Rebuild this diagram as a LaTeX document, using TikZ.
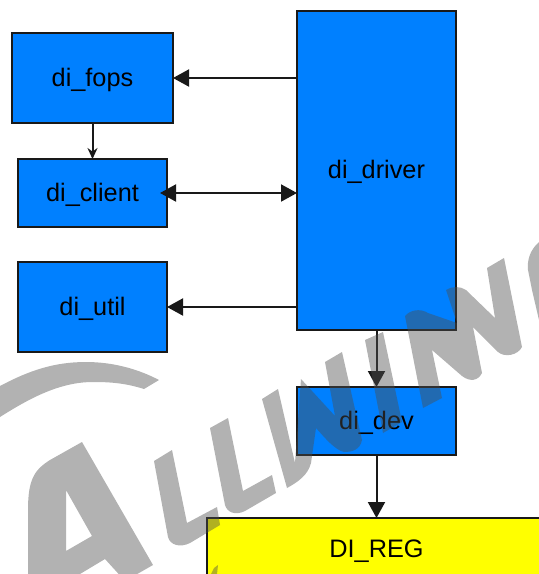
\documentclass[tikz,border=0pt]{standalone}
\usepackage{fontspec}
\setmainfont{Liberation Sans}
\usetikzlibrary{positioning}
\usetikzlibrary{arrows.meta}
\definecolor{diblue}{HTML}{0080FF}
\definecolor{diyellow}{HTML}{FFFF00}
\definecolor{markgray}{HTML}{4E4E4E}
\tikzset{
    block/.style={draw=black!90, line width=1.5pt, fill=diblue, inner sep=0pt, outer sep=0pt,
        text height=16pt, text depth=0pt, font=\fontsize{25.3}{28}\selectfont},
    link/.style={line width=2pt, black!90, xshift=-0.5pt},
    mark letter/.style={fill=markgray, fill opacity=0.435, draw=none}
}
\begin{document}
\begin{tikzpicture}[x=1pt, y=-1pt, >={Triangle[length=16pt, width=17pt]}, node distance=115pt]
    \useasboundingbox (0,0) rectangle (539,574);
    \node[block, minimum width=161pt, minimum height=90pt] (fops) at (92.5,78) {di\_fops};
    \node[block, minimum width=149pt, minimum height=68pt, below of=fops] (client) {di\_client};
    \node[block, minimum width=149pt, minimum height=90pt, below of=client, yshift=1pt] (util) {di\_util};
    \node[block, minimum width=159pt, minimum height=319pt] (driver) at (376.5,170.5) {di\_driver};
    \node[block, minimum width=159pt, minimum height=68pt, below of=driver, yshift=-135.5pt] (dev) {di\_dev};
    \node[block, fill=diyellow, minimum width=339pt, minimum height=62pt, below of=dev, yshift=-13pt] (reg) {DI\_REG};
    \draw[link, ->] (driver.west |- fops.east) -- (fops.east);
    \draw[link, -{Stealth[length=11pt, width=10pt]}] (fops.south -| client.north) -- (client.north);
    \draw[link, <->, shorten <=-7pt] (client.east) -- (driver.west |- client.east);
    \draw[link, ->] (driver.west |- util.east) -- (util.east);
    \draw[link, ->] (driver.south) -- (dev.north);
    \draw[link, ->] (dev.south) -- (reg.north);
    \path[mark letter] (0,386) .. controls (30,370) and (55,362) .. (86,362) .. controls (115,362) and (140,370) .. (159,380)
        -- (144,389) .. controls (125,383) and (110,382) .. (93,382) .. controls (60,382) and (30,398) .. (0,417) -- cycle;
    \path[mark letter, even odd rule] (82,442) -- (153,565) -- (125,581) -- (105,559) -- (75,577) -- (28,577) -- (28,510)
        .. controls (28,480) and (34,470) .. (50,460) -- cycle
        (66,490) -- (92,536) -- (66,551) -- cycle;
    \path[mark letter] (154,461) -- (172,450) -- (187,523) -- (217,507) -- (220,525) -- (190,543)
        .. controls (180,548) and (170,545) .. (168,537) -- cycle;
    \path[mark letter] (210,428) -- (228,418) -- (243,491) -- (272,475) -- (276,493) -- (245,511)
        .. controls (235,516) and (227,512) .. (225,505) -- cycle;
    \path[mark letter] (262,399) -- (278,389) -- (295,463) -- (301,379) -- (335,416) -- (325,362) -- (342,352) -- (362,440)
        .. controls (360,450) and (352,452) .. (344,452) .. controls (335,450) and (325,438) .. (316,428)
        -- (311,463) .. controls (308,475) and (298,482) .. (287,488) -- cycle;
    \path[mark letter] (365,340) -- (383,332) -- (402,422) -- (383,433) -- cycle;
    \path[mark letter] (405,316) .. controls (410,310) and (420,308) .. (428,313) -- (457,323) -- (446,290)
        .. controls (452,286) and (460,286) .. (466,290) -- (495,318) -- (487,268) -- (504,258) -- (522,347)
        .. controls (518,355) and (505,358) .. (498,352) -- (473,327) -- (482,373)
        .. controls (478,381) and (470,382) .. (462,376) -- (432,350) -- (442,398) -- (423,408) -- cycle;
    \path[mark letter] (539,242) .. controls (530,250) and (527,260) .. (528,270) -- (532,290) -- (539,320) -- cycle;
    \path[mark letter] (211,574) -- (214,568) -- (218,565) -- (217,574) -- cycle;
\end{tikzpicture}
\end{document}
